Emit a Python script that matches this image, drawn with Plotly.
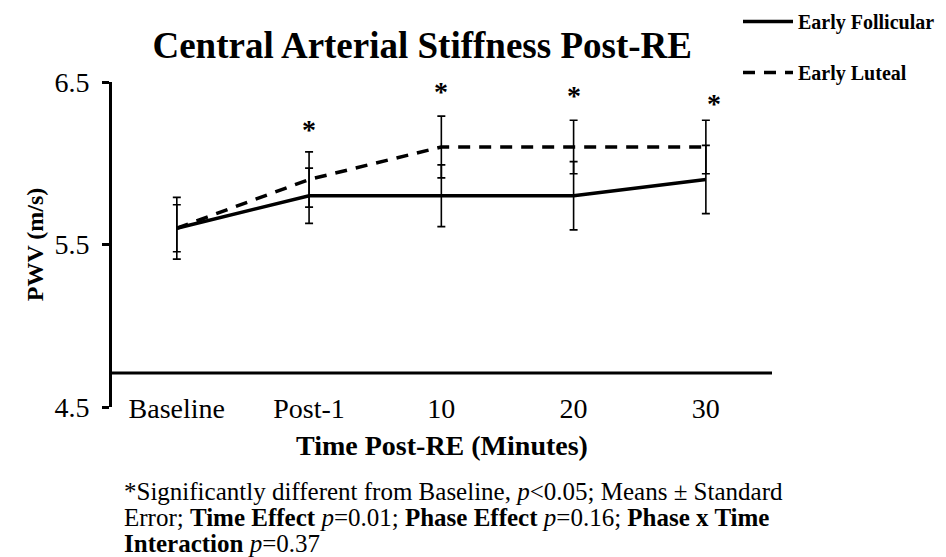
import plotly.graph_objects as go

categories = ["Baseline", "Post-1", "10", "20", "30"]
follicular = [5.60, 5.80, 5.80, 5.80, 5.90]
follicular_se = [0.19, 0.17, 0.19, 0.21, 0.21]
luteal = [5.60, 5.90, 6.10, 6.10, 6.10]
luteal_se = [0.145, 0.17, 0.19, 0.165, 0.165]
star_y = [None, 6.21, 6.44, 6.42, 6.37]
y_ticks = [4.5, 5.5, 6.5]

xpos = list(range(len(categories)))
FONT = "Liberation Serif"

fig = go.Figure()
fig.add_trace(go.Scatter(
    x=xpos, y=follicular, mode="lines", name="<b>Early Follicular</b>",
    legendgroup="a",
    line=dict(color="black", width=3.5),
    error_y=dict(type="data", array=follicular_se, visible=True,
                 color="black", thickness=1.6, width=4),
))
fig.add_trace(go.Scatter(
    x=xpos, y=luteal, mode="lines", name="<b>Early Luteal</b>",
    legendgroup="b",
    line=dict(color="black", width=3.5, dash="12px,9px"),
    error_y=dict(type="data", array=luteal_se, visible=True,
                 color="black", thickness=1.6, width=4),
))

for i, sy in enumerate(star_y):
    if sy is None:
        continue
    fig.add_annotation(x=xpos[i], y=sy, text="<b>*</b>", showarrow=False,
                       xshift=8 if i == len(categories) - 1 else 0,
                       yshift=0,
                       font=dict(family=FONT, size=28, color="black"))

# x axis line drawn above the bottom of the y range
fig.add_shape(type="line", xref="paper", yref="y", x0=0, x1=1, y0=4.71, y1=4.71,
              line=dict(color="black", width=3))

fig.update_layout(
    width=946, height=557,
    margin=dict(l=112, r=174, t=82, b=150, autoexpand=False),
    paper_bgcolor="white", plot_bgcolor="white",
    title=dict(text="<b>Central Arterial Stiffness Post-RE</b>",
               x=0.47, xref="paper", xanchor="center",
               y=1 - 45 / 557, yanchor="middle",
               font=dict(family=FONT, size=37, color="black")),
    xaxis=dict(range=[-0.49, 4.5], tickmode="array", tickvals=xpos,
               ticktext=categories, showline=False, showgrid=False,
               zeroline=False, ticks="", ticklabelstandoff=-18,
               automargin=False,
               tickfont=dict(family=FONT, size=28, color="black"),
               title=dict(text="<b>Time Post-RE (Minutes)</b>", standoff=12,
                          font=dict(family=FONT, size=28, color="black"))),
    yaxis=dict(range=[4.5, 6.5], tickmode="array", tickvals=y_ticks,
               ticktext=[str(v) for v in y_ticks],
               showline=True, linecolor="black", linewidth=3,
               ticks="outside", ticklen=7, tickwidth=3, tickcolor="black",
               showgrid=False, zeroline=False, ticklabelstandoff=7,
               automargin=False,
               tickfont=dict(family=FONT, size=28, color="black"),
               title=dict(text="<b>PWV (m/s)</b>", standoff=5,
                          font=dict(family=FONT, size=24, color="black"))),
    legend=dict(x=(738 - 112) / 660, xanchor="left", y=1 + 80 / 325, yanchor="top",
                tracegroupgap=22, traceorder="grouped", itemwidth=50,
                font=dict(family=FONT, size=20, color="black"),
                bgcolor="rgba(0,0,0,0)"),
    showlegend=True,
)

foot = [
    "*Significantly different from Baseline, <i>p</i>&lt;0.05; Means ± Standard",
    "Error; <b>Time Effect</b> <i>p</i>=0.01; <b>Phase Effect</b> <i>p</i>=0.16; <b>Phase x Time</b>",
    "<b>Interaction</b> <i>p</i>=0.37",
]
for k, line in enumerate(foot):
    fig.add_annotation(xref="paper", yref="paper", x=(122 - 112) / 660,
                       y=-(491 + 26 * k - 407) / 325,
                       xanchor="left", yanchor="middle", align="left",
                       text=line, showarrow=False,
                       font=dict(family=FONT, size=25, color="black"))

fig.write_html("out.html")
